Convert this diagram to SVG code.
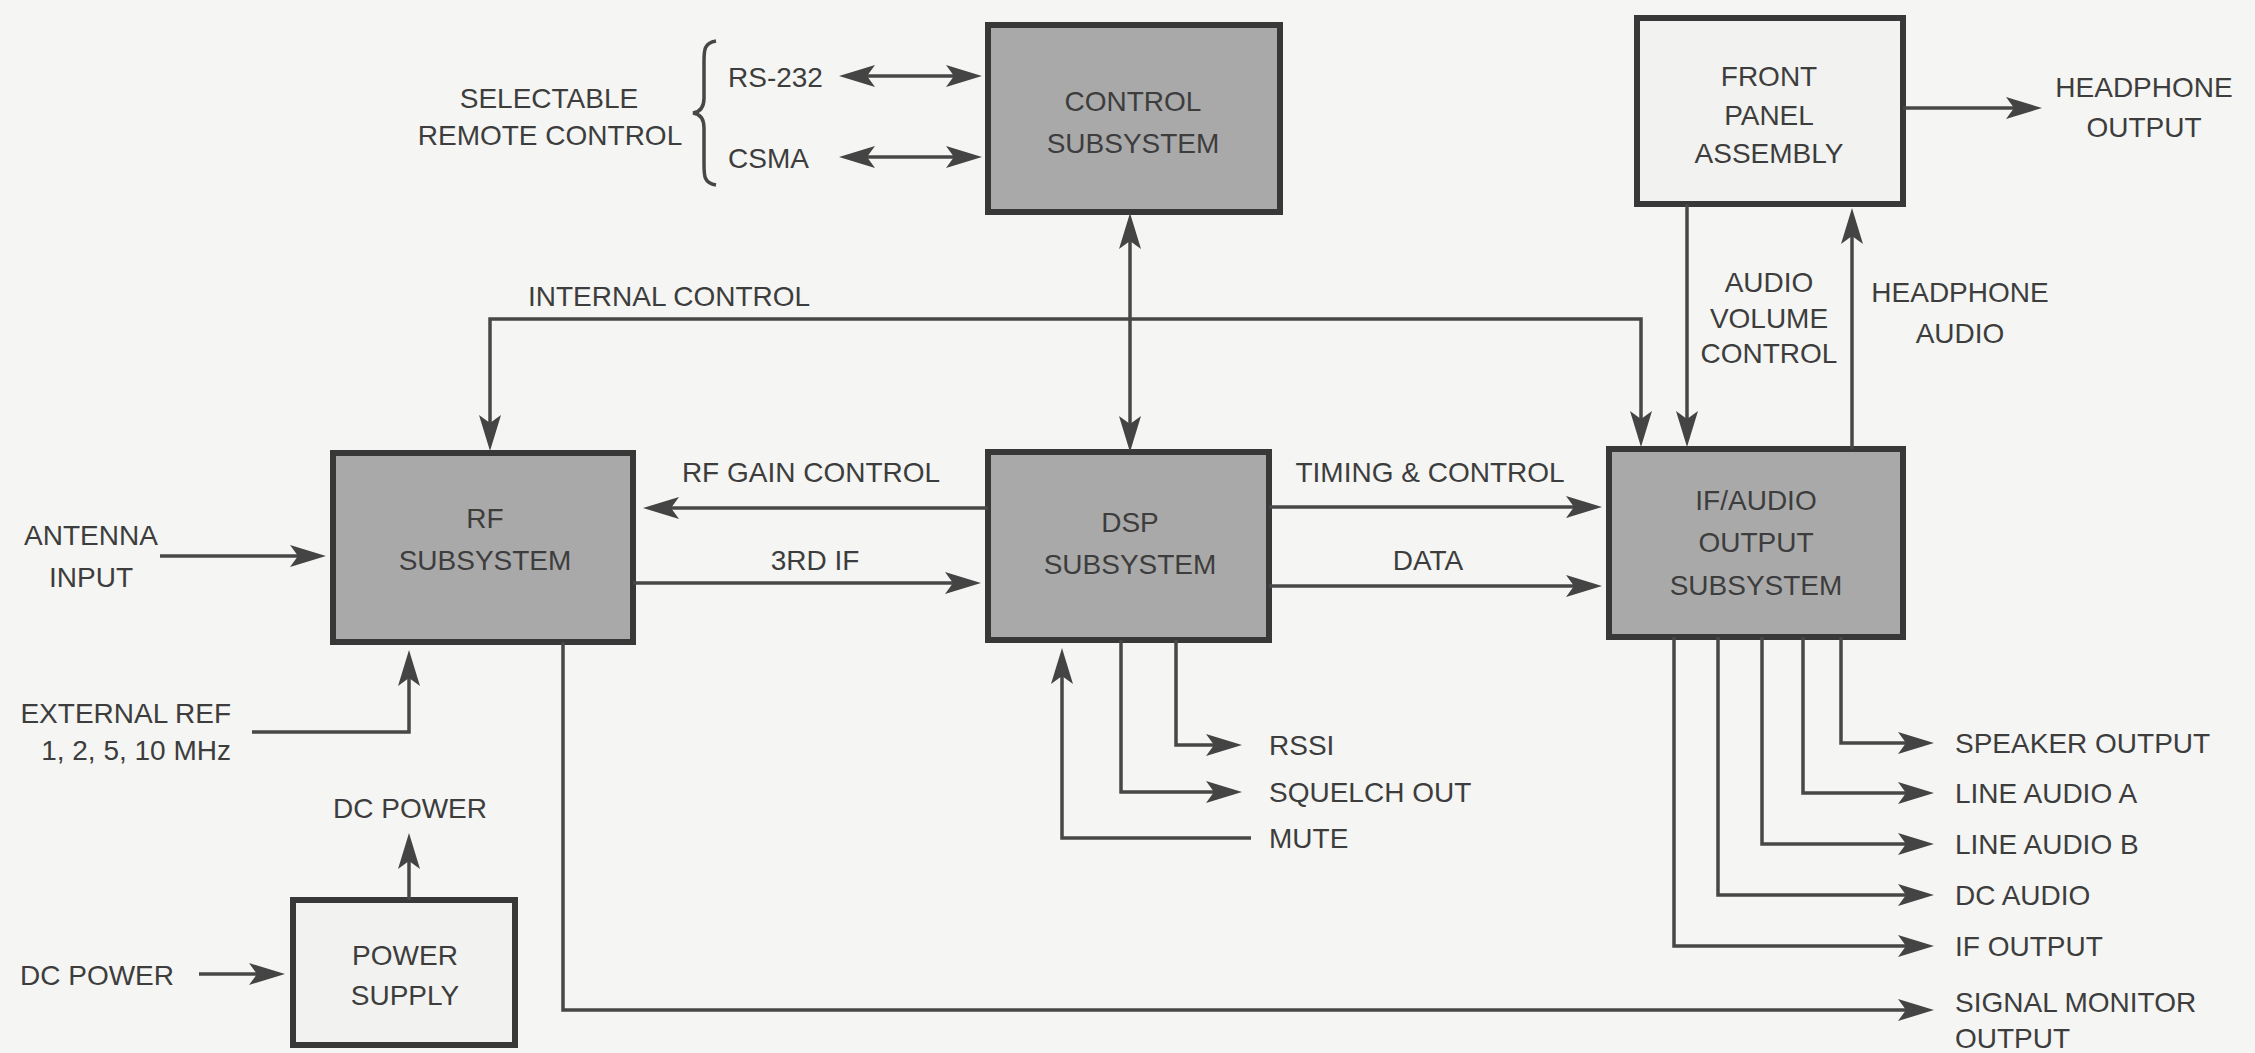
<svg xmlns="http://www.w3.org/2000/svg" width="2255" height="1053" viewBox="0 0 2255 1053">
<defs>
<marker id="ah" viewBox="0 0 36 24" refX="28" refY="12" markerWidth="36" markerHeight="24" markerUnits="userSpaceOnUse" orient="auto-start-reverse">
<path d="M0,1 L36,12 L0,23 L8,12 Z" fill="#444"/>
</marker>
</defs>
<style>
text{font-family:"Liberation Sans",Arial,sans-serif;font-size:28px;fill:#3d3d3d}
.c{text-anchor:middle}
.e{text-anchor:end}
.sub{fill:#a9a9a9;stroke:#383838;stroke-width:6}
.lt{fill:#f2f2f0;stroke:#383838;stroke-width:6}
.w{fill:none;stroke:#474747;stroke-width:3.5}
.a1{marker-end:url(#ah)}
.a2{marker-start:url(#ah);marker-end:url(#ah)}
</style>
<rect x="0" y="0" width="2255" height="1053" fill="#f5f5f3"/>

<g id="control">
<rect class="sub" x="988" y="25" width="292" height="187"/>
<text class="c" x="1133" y="111">CONTROL</text>
<text class="c" x="1133" y="153">SUBSYSTEM</text>
</g>
<g id="frontpanel">
<rect class="lt" x="1637" y="18" width="266" height="186"/>
<text class="c" x="1769" y="86">FRONT</text>
<text class="c" x="1769" y="125">PANEL</text>
<text class="c" x="1769" y="163">ASSEMBLY</text>
</g>
<g id="rf">
<rect class="sub" x="333" y="453" width="300" height="189"/>
<text class="c" x="485" y="528">RF</text>
<text class="c" x="485" y="570">SUBSYSTEM</text>
</g>
<g id="dsp">
<rect class="sub" x="988" y="452" width="281" height="188"/>
<text class="c" x="1130" y="532">DSP</text>
<text class="c" x="1130" y="574">SUBSYSTEM</text>
</g>
<g id="ifaudio">
<rect class="sub" x="1609" y="449" width="294" height="188"/>
<text class="c" x="1756" y="510">IF/AUDIO</text>
<text class="c" x="1756" y="552">OUTPUT</text>
<text class="c" x="1756" y="595">SUBSYSTEM</text>
</g>
<g id="power">
<rect class="lt" x="293" y="900" width="222" height="145"/>
<text class="c" x="405" y="965">POWER</text>
<text class="c" x="405" y="1005">SUPPLY</text>
</g>

<g id="labels">
<text class="c" x="549" y="108">SELECTABLE</text>
<text class="c" x="550" y="145">REMOTE CONTROL</text>
<path class="w" stroke-width="3" d="M716,41 C704,43 704,50 704,62 L704,98 C704,108 700,112 693,113 C700,114 704,118 704,128 L704,164 C704,176 704,183 716,185"/>
<text x="728" y="87">RS-232</text>
<text x="728" y="168">CSMA</text>
<text x="528" y="306">INTERNAL CONTROL</text>
<text class="c" x="1769" y="292">AUDIO</text>
<text class="c" x="1769" y="328">VOLUME</text>
<text class="c" x="1769" y="363">CONTROL</text>
<text class="c" x="1960" y="302">HEADPHONE</text>
<text class="c" x="1960" y="343">AUDIO</text>
<text class="c" x="2144" y="97">HEADPHONE</text>
<text class="c" x="2144" y="137">OUTPUT</text>
<text class="c" x="91" y="545">ANTENNA</text>
<text class="c" x="91" y="587">INPUT</text>
<text class="e" x="231" y="723">EXTERNAL REF</text>
<text class="e" x="231" y="760">1, 2, 5, 10 MHz</text>
<text class="c" x="811" y="482">RF GAIN CONTROL</text>
<text class="c" x="815" y="570">3RD IF</text>
<text class="c" x="1430" y="482">TIMING &amp; CONTROL</text>
<text class="c" x="1428" y="570">DATA</text>
<text x="1269" y="755">RSSI</text>
<text x="1269" y="802">SQUELCH OUT</text>
<text x="1269" y="848">MUTE</text>
<text x="1955" y="753">SPEAKER OUTPUT</text>
<text x="1955" y="803">LINE AUDIO A</text>
<text x="1955" y="854">LINE AUDIO B</text>
<text x="1955" y="905">DC AUDIO</text>
<text x="1955" y="956">IF OUTPUT</text>
<text x="1955" y="1012">SIGNAL MONITOR</text>
<text x="1955" y="1048">OUTPUT</text>
<text class="c" x="410" y="818">DC POWER</text>
<text x="20" y="985">DC POWER</text>
</g>

<g id="connectors">
<path class="w a2" d="M847,76 H974"/>
<path class="w a2" d="M847,157 H974"/>
<path class="w a2" d="M1130,221 V444"/>
<path class="w a2" d="M490,443 V319 H1641 V439"/>
<path class="w a1" d="M1687,204 V439"/>
<path class="w a1" d="M1852,449 V216"/>
<path class="w a1" d="M1903,108 H2034"/>
<path class="w a1" d="M160,556 H318"/>
<path class="w a1" d="M252,732 H409 V658"/>
<path class="w a1" d="M988,508 H651"/>
<path class="w a1" d="M633,583 H973"/>
<path class="w a1" d="M1269,507 H1594"/>
<path class="w a1" d="M1269,586 H1594"/>
<path class="w a1" d="M1176,640 V745 H1234"/>
<path class="w a1" d="M1121,640 V792 H1234"/>
<path class="w a1" d="M1251,838 H1062 V656"/>
<path class="w a1" d="M1841,637 V743 H1926"/>
<path class="w a1" d="M1803,637 V793 H1926"/>
<path class="w a1" d="M1762,637 V844 H1926"/>
<path class="w a1" d="M1718,637 V895 H1926"/>
<path class="w a1" d="M1674,637 V946 H1926"/>
<path class="w a1" d="M563,642 V1010 H1926"/>
<path class="w a1" d="M409,900 V841"/>
<path class="w a1" d="M199,974 H277"/>
</g>
</svg>
